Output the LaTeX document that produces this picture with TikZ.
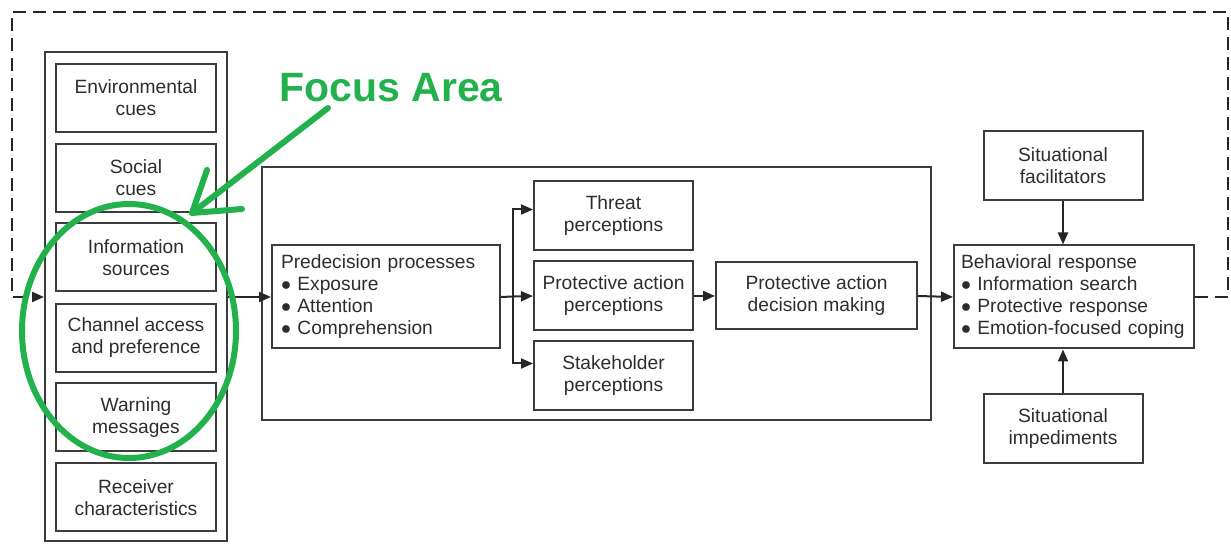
\documentclass[tikz,border=0pt]{standalone}
\usepackage{fontspec}
\setmainfont{Liberation Sans}
\usepackage{tikz}
\usetikzlibrary{
    shapes.geometric,
    arrows.meta,
    positioning,
    calc
}
\definecolor{boxline}{RGB}{60,60,60}
\definecolor{boxtext}{RGB}{45,45,45}
\definecolor{markgreen}{RGB}{34,177,76}
\newcommand{\blt}{$\bullet$\ }
\tikzset{
    frame/.style = {
        rectangle,
        draw=boxline,
        line width=1pt,
        inner sep=0pt
    },
    cuebox/.style = {
        rectangle,
        draw=boxline,
        line width=1pt,
        text=boxtext,
        minimum width=80pt,
        minimum height=34pt,
        inner sep=0pt,
        align=center,
        font=\fontsize{9.6}{11}\selectfont
    },
    stagebox/.style = {
        cuebox,
        minimum width=79.5pt,
        minimum height=34.5pt
    },
    listbox/.style = {
        rectangle,
        draw=boxline,
        line width=1pt,
        text=boxtext,
        minimum height=51.5pt,
        inner xsep=4.5pt,
        inner ysep=0pt,
        align=left,
        font=\fontsize{9.6}{11}\selectfont
    },
    arrow/.style = {
        -{Triangle[length=6pt,width=5pt]},
        draw=black!85,
        line width=1pt
    },
    feedback/.style = {
        arrow,
        line width=1.1pt,
        dash pattern=on 6.5pt off 3.5pt
    },
    focusline/.style = {
        draw=markgreen,
        line width=3pt,
        line cap=round,
        line join=round
    }
}

\begin{document}
\begin{tikzpicture}[x=0.5pt, y=-0.5pt]
\useasboundingbox (0,0) rectangle (1231,544);

% warning inputs
\node[frame, minimum width=91pt, minimum height=244.5pt] (cues) at (136,297) {};
\node[cuebox] (env)  at (136,98)    {Environmental\\cues};
\node[cuebox] (soc)  at (136,178)   {Social\\cues};
\node[cuebox] (info) at (136,257.5) {Information\\sources};
\node[cuebox] (chan) at (136,338)   {Channel access\\and preference};
\node[cuebox] (warn) at (136,417.5) {Warning\\messages};
\node[cuebox] (recv) at (136,497.5) {Receiver\\characteristics};

% decision stages
\node[frame, minimum width=334.5pt, minimum height=126.5pt] (stages) at (596.5,293.5) {};
\node[listbox, text width=105pt] (predec) at (386,297)
    {Predecision processes\\
     \blt Exposure\\
     \blt Attention\\
     \blt Comprehension};
\node[stagebox] (threat) at (613.5,215.5) {Threat\\perceptions};
\node[stagebox] (pap)    at (613.5,296)   {Protective action\\perceptions};
\node[stagebox] (stake)  at (613.5,375.5) {Stakeholder\\perceptions};
\node[stagebox, minimum width=100.5pt, minimum height=33.5pt] (padm) at (816.5,296)
    {Protective action\\decision making};

% response
\node[listbox, inner xsep=3.5pt, text width=113pt] (behav) at (1074,297)
    {Behavioral response\\
     \blt Information search\\
     \blt Protective response\\
     \blt Emotion-focused coping};
\node[stagebox] (facil) at (1063,166) {Situational\\facilitators};
\node[stagebox] (imped) at (1063,429) {Situational\\impediments};

% connectors
\coordinate (split) at (513,296.5);
\draw[arrow] (cues.east) -- (predec.west);
\draw[arrow, -] (predec.east) -- (split);
\draw[arrow] (split) |- ([yshift=3pt]threat.west);
\draw[arrow] (split) -- (pap.west);
\draw[arrow] (split) |- ([yshift=6pt]stake.west);
\draw[arrow] (pap.east) -- (padm.west);
\draw[arrow] (padm.east) -- (behav.west);
\draw[arrow] (facil.south) -- (behav.north -| facil.south);
\draw[arrow] (imped.north) -- (behav.south -| imped.north);

% feedback loop
\coordinate (loopR) at (1228,12);
\coordinate (loopL) at (12,12);
\draw[feedback] (behav.east) -| (loopR) -- (loopL) |- (cues.west);

% focus marking
\node[font=\bfseries\fontsize{20.5}{24}\selectfont, text=markgreen] (focus) at (391,88) {Focus Area};
\node[ellipse, draw=markgreen, line width=3pt, minimum width=107pt, minimum height=127pt] (ring) at (129,331) {};
\coordinate (tail) at (328,108);
\coordinate (tip) at (192,213);
\coordinate (barbA) at (207,170);
\coordinate (barbB) at (242,209);
\draw[focusline] (tail) -- (tip);
\draw[focusline] (barbA) -- (tip) -- (barbB);
\end{tikzpicture}
\end{document}
